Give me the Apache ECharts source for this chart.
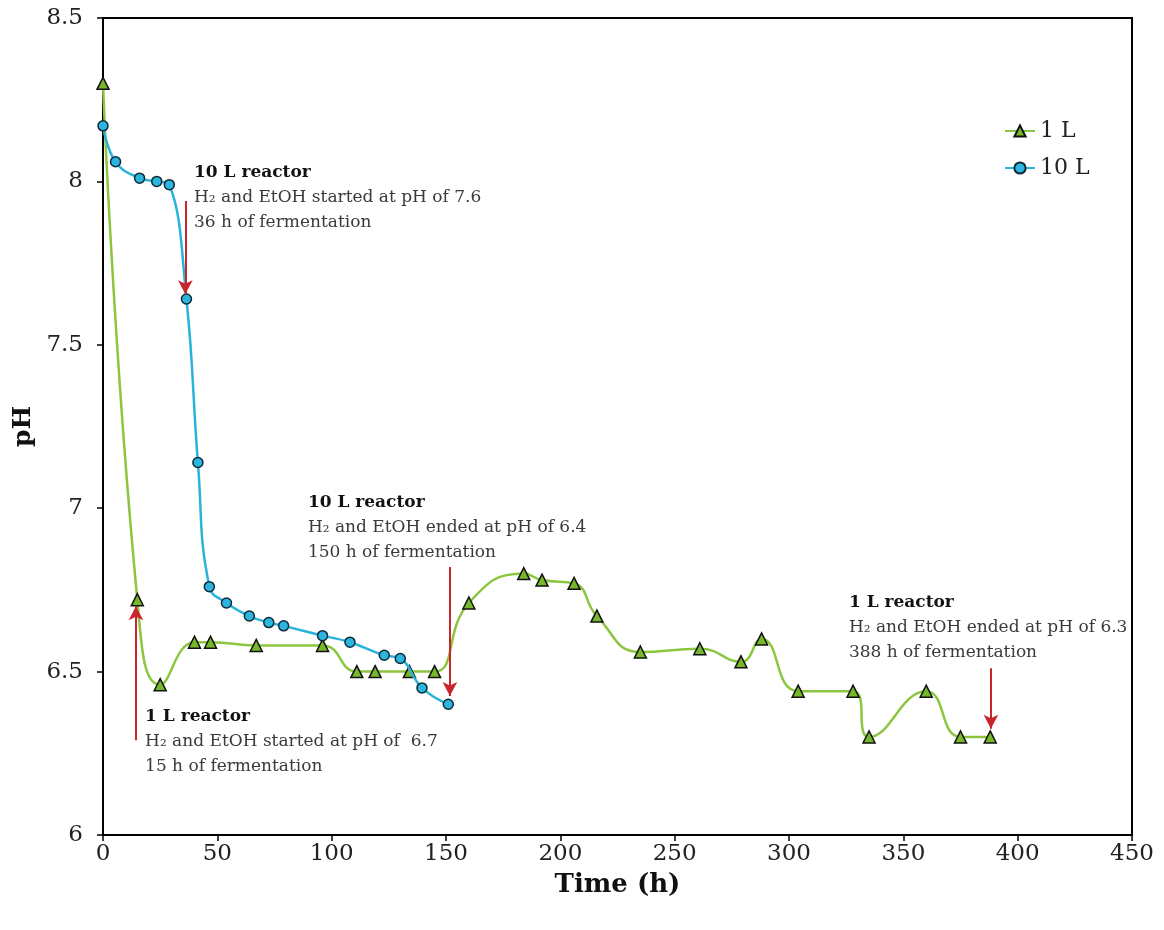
<!DOCTYPE html>
<html>
<head>
<meta charset="utf-8">
<script src="https://cdn.jsdelivr.net/npm/echarts@6/dist/echarts.min.js"></script>
<style>
html,body{margin:0;padding:0;background:#fff;}
#c{width:1164px;height:930px;}
</style>
</head>
<body>
<div id="c"></div>
<script>
// ---- data ----
const time1L = [0, 15, 25, 40, 47, 67, 96, 111, 119, 134, 145, 160, 184, 192, 206, 216, 235, 261, 279, 288, 304, 328, 335, 360, 375, 388];
const ph1L   = [8.30, 6.72, 6.46, 6.59, 6.59, 6.58, 6.58, 6.50, 6.50, 6.50, 6.50, 6.71, 6.80, 6.78, 6.77, 6.67, 6.56, 6.57, 6.53, 6.60, 6.44, 6.44, 6.30, 6.44, 6.30, 6.30];
const time10L = [0, 5.5, 16, 23.5, 29, 36.5, 41.5, 46.5, 54, 64, 72.5, 79, 96, 108, 123, 130, 139.5, 151];
const ph10L   = [8.17, 8.06, 8.01, 8.00, 7.99, 7.64, 7.14, 6.76, 6.71, 6.67, 6.65, 6.64, 6.61, 6.59, 6.55, 6.54, 6.45, 6.40];
const seriesNames = ['1 L', '10 L'];
const xTicks = {min: 0, max: 450, interval: 50};
const yTicks = {min: 6, max: 8.5, interval: 0.5};

// annotation texts, anchored at data coordinates [time, pH] (top-left of text block)
const noteTitles = ['10 L reactor', '10 L reactor', '1 L reactor', '1 L reactor'];
const noteLine1 = ['H₂ and EtOH started at pH of 7.6', 'H₂ and EtOH ended at pH of 6.4', 'H₂ and EtOH started at pH of  6.7', 'H₂ and EtOH ended at pH of 6.3'];
const noteLine2 = ['36 h of fermentation', '150 h of fermentation', '15 h of fermentation', '388 h of fermentation'];
const noteAnchors = [[39.8, 8.065], [89.6, 7.055], [18.4, 6.40], [326.2, 6.75]];
// arrows: [time, pH from] -> [time, pH to]
const arrowFrom = [[36, 7.94], [151.7, 6.82], [14.4, 6.29], [388.3, 6.51]];
const arrowTo   = [[36, 7.655], [151.7, 6.425], [14.4, 6.70], [388.3, 6.325]];

const FONT = 'DejaVu Serif';
const pairs = (xs, ys) => xs.map((x, i) => [x, ys[i]]);

const chart = echarts.init(document.getElementById('c'));
chart.setOption({
  backgroundColor: '#fff',
  animation: false,
  grid: {left: 103, right: 32, top: 18, bottom: 95, show: true, borderColor: '#000', borderWidth: 2, backgroundColor: 'transparent'},
  legend: {
    orient: 'vertical', left: 999, top: 115, itemGap: 15,
    itemWidth: 30, itemHeight: 14,
    textStyle: {fontFamily: FONT, fontSize: 22, color: '#222'},
    data: seriesNames
  },
  xAxis: {
    type: 'value', min: xTicks.min, max: xTicks.max, interval: xTicks.interval,
    name: 'Time (h)', nameLocation: 'middle', nameGap: 37,
    nameTextStyle: {fontFamily: FONT, fontWeight: 'bold', fontSize: 26, color: '#111'},
    axisLine: {show: true, lineStyle: {color: '#000', width: 2}},
    axisTick: {show: true, length: 6, inside: false, lineStyle: {color: '#000', width: 1.5}},
    axisLabel: {fontFamily: FONT, fontSize: 23, color: '#222', margin: 8},
    splitLine: {show: false}
  },
  yAxis: {
    type: 'value', min: yTicks.min, max: yTicks.max, interval: yTicks.interval,
    name: 'pH', nameLocation: 'middle', nameGap: 62, nameRotate: 90,
    nameTextStyle: {fontFamily: FONT, fontWeight: 'bold', fontSize: 25, color: '#111'},
    axisLine: {show: true, lineStyle: {color: '#000', width: 2}},
    axisTick: {show: true, length: 6, inside: false, lineStyle: {color: '#000', width: 1.5}},
    axisLabel: {fontFamily: FONT, fontSize: 23, color: '#222', margin: 20},
    splitLine: {show: false}
  },
  series: [
    {
      name: seriesNames[0], type: 'line', smooth: 0.5,
      data: pairs(time1L, ph1L),
      symbol: 'triangle', symbolSize: 12,
      lineStyle: {color: '#8cc63f', width: 2.5},
      itemStyle: {color: '#76b82a', borderColor: '#111', borderWidth: 1.5},
      z: 2
    },
    {
      name: seriesNames[1], type: 'line', smooth: 0.45,
      data: pairs(time10L, ph10L),
      symbol: 'circle', symbolSize: 10,
      lineStyle: {color: '#29b3db', width: 2.5},
      itemStyle: {color: '#2bb5df', borderColor: '#0e2a36', borderWidth: 1.5},
      z: 3,
      markLine: {
        silent: true, animation: false,
        symbol: ['none', 'arrow'], symbolSize: [11, 14],
        label: {show: false},
        lineStyle: {color: '#c8262c', width: 2, type: 'solid'},
        emphasis: {disabled: true},
        data: arrowFrom.map((f, i) => [{coord: f}, {coord: arrowTo[i]}])
      },
      markPoint: {
        silent: true, animation: false,
        symbol: 'circle', symbolSize: 0,
        itemStyle: {color: 'transparent'},
        label: {
          show: true, position: [0, 0], align: 'left', verticalAlign: 'top',
          formatter: p => '{b|' + noteTitles[p.dataIndex] + '}\n{n|' + noteLine1[p.dataIndex] + '}\n{n|' + noteLine2[p.dataIndex] + '}',
          rich: {
            b: {fontFamily: FONT, fontWeight: 'bold', fontSize: 17, color: '#111', lineHeight: 25},
            n: {fontFamily: FONT, fontSize: 17, color: '#3a3a3a', lineHeight: 25}
          }
        },
        data: noteAnchors.map(a => ({coord: a}))
      }
    }
  ]
});
</script>
</body>
</html>
